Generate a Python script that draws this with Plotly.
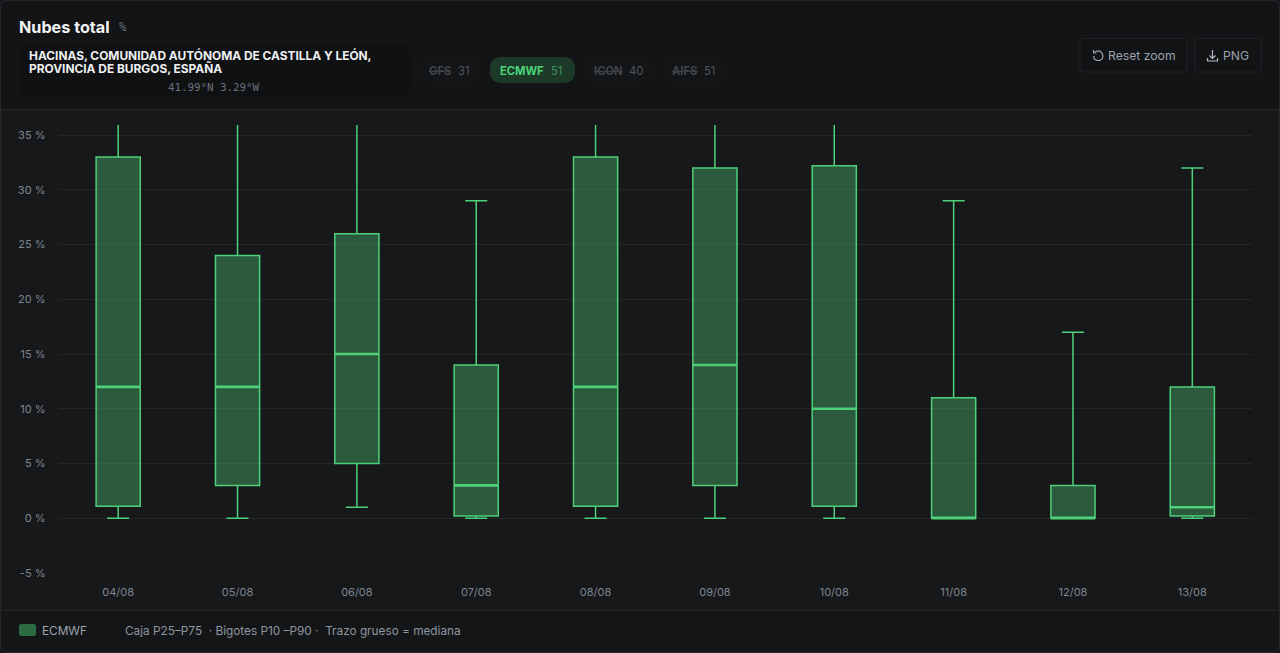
import plotly.graph_objects as go

dates = ["04/08", "05/08", "06/08", "07/08", "08/08", "09/08", "10/08", "11/08", "12/08", "13/08"]
p10 = [0, 0, 1, 0, 0, 0, 0, 0, 0, 0]
p25 = [1.1, 3, 5, 0.2, 1.1, 3, 1.1, 0, 0, 0.2]
p50 = [12, 12, 15, 3, 12, 14, 10, 0, 0, 1]
p75 = [33, 24, 26, 14, 33, 32, 32.2, 11, 3, 12]
p90 = [47, 44, 48, 29, 46, 44, 45, 29, 17, 32]
y_ticks = [-5, 0, 5, 10, 15, 20, 25, 30, 35]
y_labels = ["-5 %", "0 %", "5 %", "10 %", "15 %", "20 %", "25 %", "30 %", "35 %"]
series_name = "ECMWF"
pills = [("GFS", "31", False), ("ECMWF", "51", True), ("ICON", "40", False), ("AIFS", "51", False)]

W, H = 1280, 653
GREEN = "#4fd07a"
FONT = "Inter"
PT, PB, PL, PR = 125, 573, 58.5, 1252

fx = lambda x: x / W
fy = lambda y: 1 - y / H


def rrect(x0, y0, x1, y1, r, fill, line="rgba(0,0,0,0)", lw=1, layer="below"):
    a, b = fx, fy
    path = (
        f"M {a(x0+r)} {b(y0)} L {a(x1-r)} {b(y0)} Q {a(x1)} {b(y0)} {a(x1)} {b(y0+r)} "
        f"L {a(x1)} {b(y1-r)} Q {a(x1)} {b(y1)} {a(x1-r)} {b(y1)} "
        f"L {a(x0+r)} {b(y1)} Q {a(x0)} {b(y1)} {a(x0)} {b(y1-r)} "
        f"L {a(x0)} {b(y0+r)} Q {a(x0)} {b(y0)} {a(x0+r)} {b(y0)} Z"
    )
    return dict(type="path", xref="paper", yref="paper", path=path, fillcolor=fill,
                line=dict(color=line, width=lw), layer=layer)


def rect(x0, y0, x1, y1, fill):
    return dict(type="rect", xref="paper", yref="paper", x0=fx(x0), x1=fx(x1), y0=fy(y1), y1=fy(y0),
                fillcolor=fill, line=dict(width=0), layer="below")


def polyline(points, color, width=1.2):
    path = "M " + " L ".join(f"{fx(x)} {fy(y)}" for x, y in points)
    return dict(type="path", xref="paper", yref="paper", path=path,
                line=dict(color=color, width=width), layer="above")


def label(x, y, text, size=12, color="#9ca3af", anchor="left", family=FONT, **font_extra):
    return dict(xref="paper", yref="paper", x=fx(x), y=fy(y), text=text, showarrow=False,
                xanchor=anchor, yanchor="middle", align=anchor, borderpad=0, borderwidth=0,
                font=dict(family=family, size=size, color=color, **font_extra))


shapes = [
    rect(0, 0, W, 109, "#121416"),
    rect(0, 110, W, 610, "#16181a"),
    rect(0, 611, W, H, "#131517"),
    rect(0, 109, W, 110, "#25282b"),
    rect(0, 610, W, 611, "#25282b"),
    rrect(0.5, 0.5, W - 0.5, H - 0.5, 6, "rgba(0,0,0,0)", "#24272a", 1, "above"),
    rrect(19, 44, 410, 96, 13, "#0f1113"),
    rrect(420, 57, 479, 83, 12, "#131517"),
    rrect(490, 57, 575, 83, 12, "#1d3a29"),
    rrect(585, 57, 652, 83, 12, "#131517"),
    rrect(663, 57, 725, 83, 12, "#131517"),
    rrect(1080, 38.5, 1187, 72, 3, "#111315", "#202327"),
    rrect(1195, 38.5, 1261, 72, 3, "#111315", "#202327"),
    rrect(19, 624, 36, 636, 2.5, "#2d6b45"),
    # reset icon
    polyline([(1094.5, 52), (1097, 51), (1100, 51.2), (1102, 53), (1103, 56), (1102, 59),
              (1100, 60.5), (1097, 60.5), (1094.5, 59), (1093.5, 56)], "#9ca3af"),
    polyline([(1093.5, 50), (1093.5, 53), (1096.5, 53)], "#9ca3af"),
    # download icon
    polyline([(1212.5, 50), (1212.5, 58)], "#b4b8be"),
    polyline([(1209.5, 55.5), (1212.5, 58.5), (1215.5, 55.5)], "#b4b8be"),
    polyline([(1207.5, 58), (1207.5, 61), (1217.5, 61), (1217.5, 58)], "#b4b8be"),
]

annotations = [
    label(19, 27, "<b>Nubes total</b>", 16.2, "#f1f3f5"),
    label(119, 27, "%", 12, "#6b7280", family="DejaVu Sans Mono"),
    label(29, 56, "<b>HACINAS, COMUNIDAD AUTÓNOMA DE CASTILLA Y LEÓN,</b>", 11.9, "#eef0f2"),
    label(29, 69, "<b>PROVINCIA DE BURGOS, ESPAÑA</b>", 11.9, "#eef0f2"),
    label(214, 87, "41.99°N 3.29°W", 10.8, "#6b7280", "center", "DejaVu Sans Mono"),
    label(1108, 56, "Reset zoom", 12.2, "#9ca3af"),
    label(1223, 56, "PNG", 12.2, "#9ca3af"),
    label(42, 631, series_name, 11.8, "#9ca3af"),
    label(125, 631, "Caja P25–P75  · Bigotes P10 –P90 ·  Trazo grueso = mediana", 11.8, "#8f96a0"),
]

pill_pos = [(429, 458), (500, 551), (594, 629), (672, 704)]
for (name, value, active), (xn, xv) in zip(pills, pill_pos):
    if active:
        annotations.append(label(xn, 71, f"<b>{name}</b>", 11.2, "#4bd37b"))
        annotations.append(label(xv, 71, value, 11.2, "#3d8f5c"))
    else:
        annotations.append(label(xn, 71, f"<b>{name}</b>", 11.2, "#3f444b", lineposition="through"))
        annotations.append(label(xv, 71, value, 11.2, "#50555d"))

fig = go.Figure()
fig.add_trace(go.Box(
    x=dates, q1=p25, median=p50, q3=p75, lowerfence=p10, upperfence=p90,
    name=series_name, width=0.37, whiskerwidth=0.5, boxpoints=False,
    fillcolor="rgba(79,208,122,0.36)", line=dict(color=GREEN, width=1.5),
    showlegend=False,
))
# Thick median stroke, drawn as a flat box at the median values
fig.add_trace(go.Box(
    x=dates, q1=p50, median=p50, q3=p50, lowerfence=p50, upperfence=p50,
    name="Mediana", width=0.37, whiskerwidth=0, boxpoints=False,
    fillcolor="rgba(0,0,0,0)", line=dict(color=GREEN, width=2.6),
    showlegend=False, hoverinfo="skip",
))

fig.update_layout(
    width=W, height=H, autosize=False,
    margin=dict(l=0, r=0, t=0, b=0, pad=0, autoexpand=False),
    paper_bgcolor="#16181a", plot_bgcolor="rgba(0,0,0,0)",
    boxmode="overlay", showlegend=False,
    font=dict(family=FONT, color="#7f8690", size=11),
    shapes=shapes, annotations=annotations,
    xaxis=dict(domain=[fx(PL), fx(PR)], type="category", categoryorder="array", categoryarray=dates,
               range=[-0.5, len(dates) - 0.5], showgrid=False, zeroline=False, showline=False,
               automargin=False, ticks="", ticklabelstandoff=11,
               tickfont=dict(size=11, color="#7f8690", family=FONT)),
    yaxis=dict(domain=[fy(PB), fy(PT)], range=[-5, (518 - PT) / 10.94],
               tickmode="array", tickvals=y_ticks, ticktext=y_labels, showgrid=True,
               gridcolor="#232629", gridwidth=1, zeroline=False, showline=False,
               automargin=False, ticks="", ticklabelstandoff=12,
               tickfont=dict(size=11, color="#7f8690", family=FONT)),
)

fig.write_html("out.html", config=dict(displayModeBar=False),
               post_script="document.body.style.margin='0';document.body.style.background='#16181a';document.body.style.overflow='hidden';")
